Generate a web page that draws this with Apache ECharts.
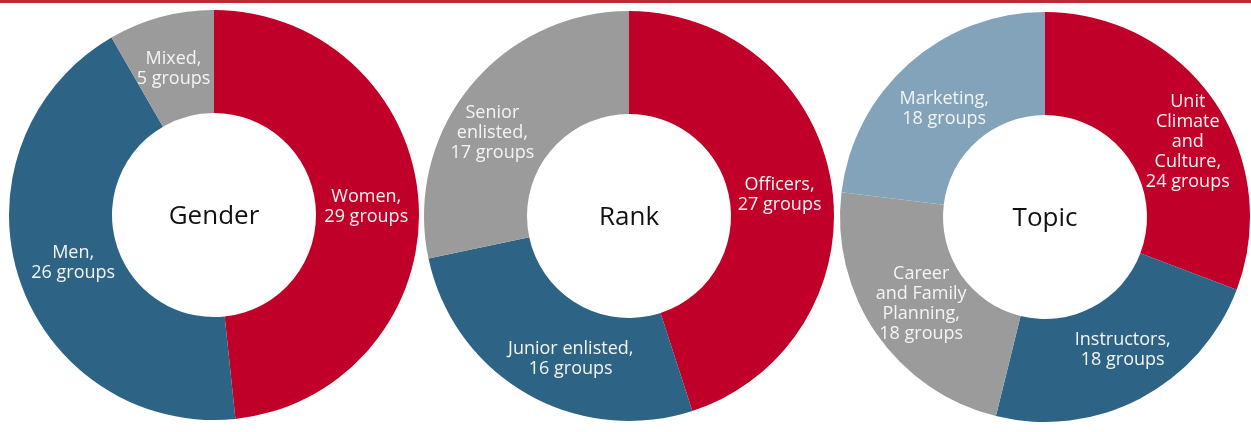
<!DOCTYPE html>
<html>
<head>
<meta charset="utf-8">
<script src="https://cdn.jsdelivr.net/npm/echarts@6/dist/echarts.min.js"></script>
<style>
html,body{margin:0;padding:0;background:#fff;}
#chart{width:1251px;height:432px;}
</style>
</head>
<body>
<div id="chart"></div>
<script>
// ---- Data ----
const chartTitles = ["Gender", "Rank", "Topic"];

const genderCategories = ["Women", "Men", "Mixed"];
const genderValues = [29, 26, 5];

const rankCategories = ["Officers", "Junior enlisted", "Senior enlisted"];
const rankValues = [27, 16, 17];

const topicCategories = ["Unit Climate and Culture", "Instructors", "Career and Family Planning", "Marketing"];
const topicValues = [24, 18, 18, 18];

// label line breaks (display text)
const genderLabels = ["Women,\n29 groups", "Men,\n26 groups", "Mixed,\n5 groups"];
const rankLabels = ["Officers,\n27 groups", "Junior enlisted,\n16 groups", "Senior\nenlisted,\n17 groups"];
const topicLabels = ["Unit\nClimate\nand\nCulture,\n24 groups", "Instructors,\n18 groups", "Career\nand Family\nPlanning,\n18 groups", "Marketing,\n18 groups"];

// ---- Styles ----
const RED = "#C00028", BLUE = "#2D6384", GRAY = "#9B9B9B", LIGHTBLUE = "#82A3B9";
const genderColors = [RED, BLUE, GRAY];
const rankColors = [RED, BLUE, GRAY];
const topicColors = [RED, BLUE, GRAY, LIGHTBLUE];

const FONT = "'Open Sans', 'Noto Sans', sans-serif";

const pies = [
  {cats: genderCategories, vals: genderValues, labels: genderLabels, colors: genderColors, center: [214, 215], offsets: [[-4,0],[8,0],[0,5]]},
  {cats: rankCategories, vals: rankValues, labels: rankLabels, colors: rankColors, center: [629, 216], offsets: [[-4,3],[20,7],[-15,15]]},
  {cats: topicCategories, vals: topicValues, labels: topicLabels, colors: topicColors, center: [1045, 217], offsets: [[14,14],[5,-6],[5,-2],[3,9]]}
];

const series = pies.map(p => ({
  type: 'pie',
  center: p.center,
  radius: [102, 205],
  startAngle: 90,
  clockwise: true,
  silent: true,
  avoidLabelOverlap: false,
  label: {
    show: true,
    position: 'inside',
    color: '#F4F4F4',
    fontFamily: FONT,
    fontSize: 18,
    lineHeight: 20,
    align: 'center'
  },
  labelLine: {show: false},
  itemStyle: {borderWidth: 0},
  emphasis: {disabled: true},
  data: p.cats.map((c, i) => ({
    name: c,
    value: p.vals[i],
    itemStyle: {color: p.colors[i]},
    label: {formatter: p.labels[i], offset: p.offsets[i]}
  }))
}));

const chart = echarts.init(document.getElementById('chart'), null, {renderer: 'canvas'});
chart.setOption({
  animation: false,
  backgroundColor: '#fff',
  graphic: [
    {type: 'rect', shape: {x: 0, y: 0, width: 1251, height: 3}, style: {fill: '#BE2834'}},
    ...chartTitles.map((t, i) => ({
      type: 'text',
      x: pies[i].center[0],
      y: pies[i].center[1] + 2,
      style: {text: t, fill: '#111', font: "26px " + FONT, textAlign: 'center', textVerticalAlign: 'middle'}
    }))
  ],
  series: series
});
</script>
</body>
</html>
